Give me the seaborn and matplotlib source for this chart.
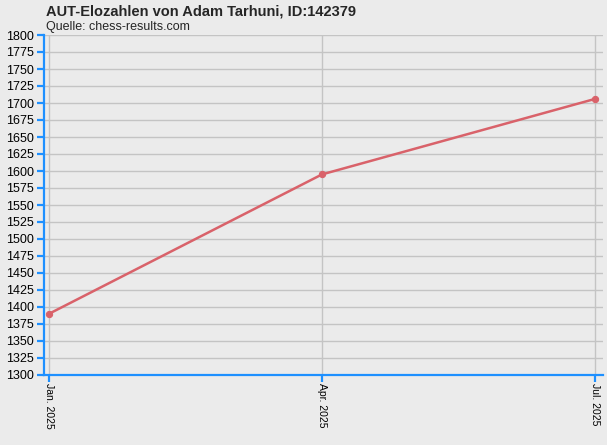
import numpy as np
import pandas as pd
import matplotlib
matplotlib.use("Agg")
import matplotlib.pyplot as plt
import seaborn as sns

# Data
dates = ["Jan. 2025", "Apr. 2025", "Jul. 2025"]
elo = [1390, 1595, 1706]
y_ticks = list(range(1300, 1801, 25))

sns.set_theme(style="whitegrid")
plt.rcParams['font.family'] = ['Liberation Sans', 'DejaVu Sans']

bg = "#ebebeb"
blue = "#1e90ff"
line_col = "#d9626a"

df = pd.DataFrame({"pos": np.arange(len(dates)), "elo": elo})

fig = plt.figure(figsize=(6.07, 4.45), dpi=100, facecolor=bg)
ax = fig.add_axes([44 / 607, 1 - 375 / 445, (603 - 44) / 607, (375 - 35) / 445])
ax.set_facecolor(bg)

sns.lineplot(data=df, x="pos", y="elo", ax=ax, color=line_col, linewidth=1.8,
             marker="o", markersize=4.5, markeredgecolor=line_col)

ax.set_xlim(-5 / 273, 2 + 8 / 273)
ax.set_ylim(1300, 1800)
ax.set_xticks(df["pos"])
ax.set_xticklabels(dates, rotation=270, fontsize=7.5)
ax.set_yticks(y_ticks)
ax.set_yticklabels([str(t) for t in y_ticks], fontsize=9)
ax.set_xlabel("")
ax.set_ylabel("")

ax.grid(True, color="#c4c4c4", linewidth=1)
for side in ["top", "right"]:
    ax.spines[side].set_visible(False)
for side in ["left", "bottom"]:
    ax.spines[side].set_color(blue)
    ax.spines[side].set_linewidth(1.6)
ax.tick_params(axis="both", colors=blue, direction="out", length=5, width=1.6,
               labelcolor="black", pad=2, left=True, bottom=True)
ax.tick_params(axis="x", pad=1)

fig.text(46 / 607, 1 - 12 / 445, "AUT-Elozahlen von Adam Tarhuni, ID:142379",
         fontsize=10.5, fontweight="bold", va="center", ha="left")
fig.text(46 / 607, 1 - 27 / 445, "Quelle: chess-results.com",
         fontsize=9, va="center", ha="left")

fig.savefig("out.png", dpi=100, facecolor=bg)
